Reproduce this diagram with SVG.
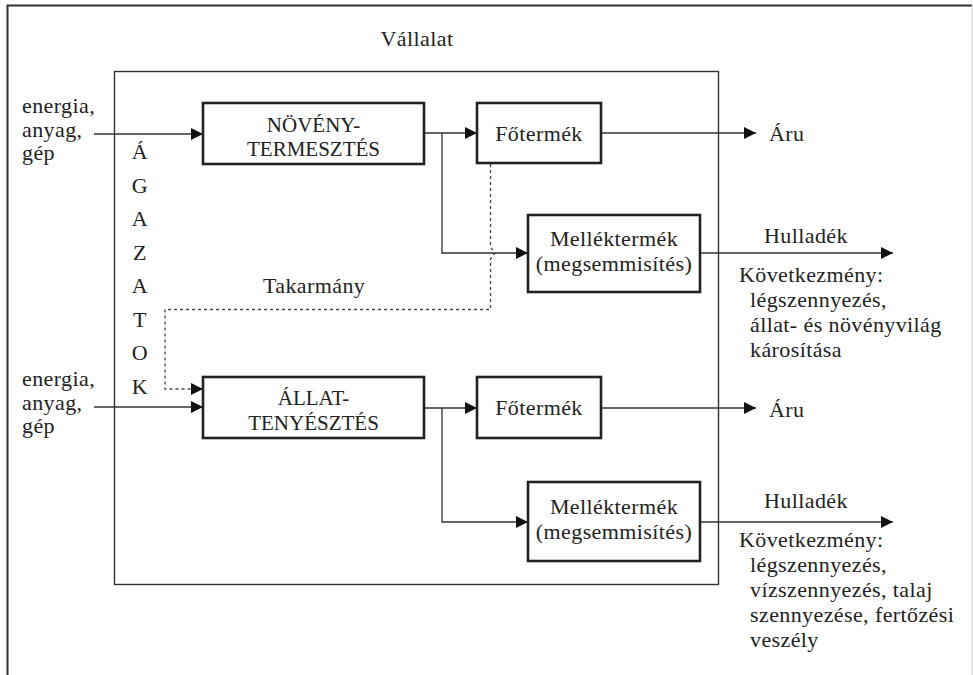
<svg xmlns="http://www.w3.org/2000/svg" width="973" height="675" viewBox="0 0 973 675">
<style>
text{font-family:"Liberation Serif","Times New Roman",serif;font-size:22px;fill:#222;letter-spacing:0.4px}
.c{text-anchor:middle}
.caps{font-size:21px;letter-spacing:0}
.box{fill:#fff;stroke:#222;stroke-width:2.6}
.ln{fill:none;stroke:#333;stroke-width:1.3}
.dot{fill:none;stroke:#444;stroke-width:1.3;stroke-dasharray:3 3}
.frame{fill:none;stroke:#333;stroke-width:1.4}
</style>
<defs>
<marker id="ah" markerUnits="userSpaceOnUse" markerWidth="12" markerHeight="12" refX="12" refY="6" orient="auto">
<path d="M0,0 L12,6 L0,12 z" fill="#111"/>
</marker>
</defs>
<rect width="973" height="675" fill="#fff"/>
<g id="outer-frame">
<path d="M7.5,675 V5.5 H972" fill="none" stroke="#333" stroke-width="2"/>
<path d="M972,5.5 V675" fill="none" stroke="#ccc" stroke-width="1"/>
<text x="417" y="46" class="c">Vállalat</text>
</g>
<g id="vallalat">
<rect x="114.5" y="71.5" width="604" height="513" class="frame"/>
</g>
<g id="agazatok">
<text x="140" y="159" class="c">Á</text>
<text x="140" y="193" class="c">G</text>
<text x="140" y="226" class="c">A</text>
<text x="140" y="260" class="c">Z</text>
<text x="140" y="293" class="c">A</text>
<text x="140" y="327" class="c">T</text>
<text x="140" y="360" class="c">O</text>
<text x="140" y="394" class="c">K</text>
</g>
<g id="connectors">
<path d="M94,134 H203" class="ln" marker-end="url(#ah)"/>
<path d="M424,133 H477" class="ln" marker-end="url(#ah)"/>
<path d="M442,133 V253 H528" class="ln" marker-end="url(#ah)"/>
<path d="M601,133 H756" class="ln" marker-end="url(#ah)"/>
<path d="M700,253 H893" class="ln" marker-end="url(#ah)"/>
<path d="M490.5,164 V247 L495,253 L490.5,259 V309.5 H165 V389 H203" class="dot" marker-end="url(#ah)"/>
<path d="M94,407 H203" class="ln" marker-end="url(#ah)"/>
<path d="M424,408 H477" class="ln" marker-end="url(#ah)"/>
<path d="M442,408 V522 H528" class="ln" marker-end="url(#ah)"/>
<path d="M601,408 H756" class="ln" marker-end="url(#ah)"/>
<path d="M700,522 H893" class="ln" marker-end="url(#ah)"/>
</g>
<g id="input-top">
<text x="22" y="113">energia,</text>
<text x="22" y="137">anyag,</text>
<text x="22" y="160">gép</text>
</g>
<g id="input-bottom">
<text x="22" y="386">energia,</text>
<text x="22" y="410">anyag,</text>
<text x="22" y="433">gép</text>
</g>
<g id="novenytermesztes">
<rect x="203" y="103" width="221" height="61" class="box"/>
<text x="313.5" y="132" class="c caps">NÖVÉNY-</text>
<text x="313.5" y="156" class="c caps">TERMESZTÉS</text>
</g>
<g id="fotermek-top">
<rect x="477" y="103" width="124" height="60" class="box"/>
<text x="539" y="141" class="c">Főtermék</text>
</g>
<g id="mellektermek-top">
<rect x="528" y="215" width="172" height="77" class="box"/>
<text x="614" y="246" class="c">Melléktermék</text>
<text x="614" y="271" class="c">(megsemmisítés)</text>
</g>
<g id="aru-top"><text x="769" y="141">Áru</text></g>
<g id="hulladek-top">
<text x="764" y="243">Hulladék</text>
<text x="739" y="282">Következmény:</text>
<text x="750" y="307">légszennyezés,</text>
<text x="750" y="332">állat- és növényvilág</text>
<text x="750" y="357">károsítása</text>
</g>
<g id="takarmany"><text x="263" y="293">Takarmány</text></g>
<g id="allattenyesztes">
<rect x="203" y="377" width="221" height="61" class="box"/>
<text x="313.5" y="405" class="c caps">ÁLLAT-</text>
<text x="313.5" y="430" class="c caps">TENYÉSZTÉS</text>
</g>
<g id="fotermek-bottom">
<rect x="477" y="377" width="124" height="61" class="box"/>
<text x="539" y="415" class="c">Főtermék</text>
</g>
<g id="mellektermek-bottom">
<rect x="528" y="482" width="172" height="79" class="box"/>
<text x="614" y="514" class="c">Melléktermék</text>
<text x="614" y="539" class="c">(megsemmisítés)</text>
</g>
<g id="aru-bottom"><text x="769" y="417">Áru</text></g>
<g id="hulladek-bottom">
<text x="764" y="508">Hulladék</text>
<text x="739" y="547">Következmény:</text>
<text x="750" y="572">légszennyezés,</text>
<text x="750" y="597">vízszennyezés, talaj</text>
<text x="750" y="622">szennyezése, fertőzési</text>
<text x="750" y="647">veszély</text>
</g>
</svg>
